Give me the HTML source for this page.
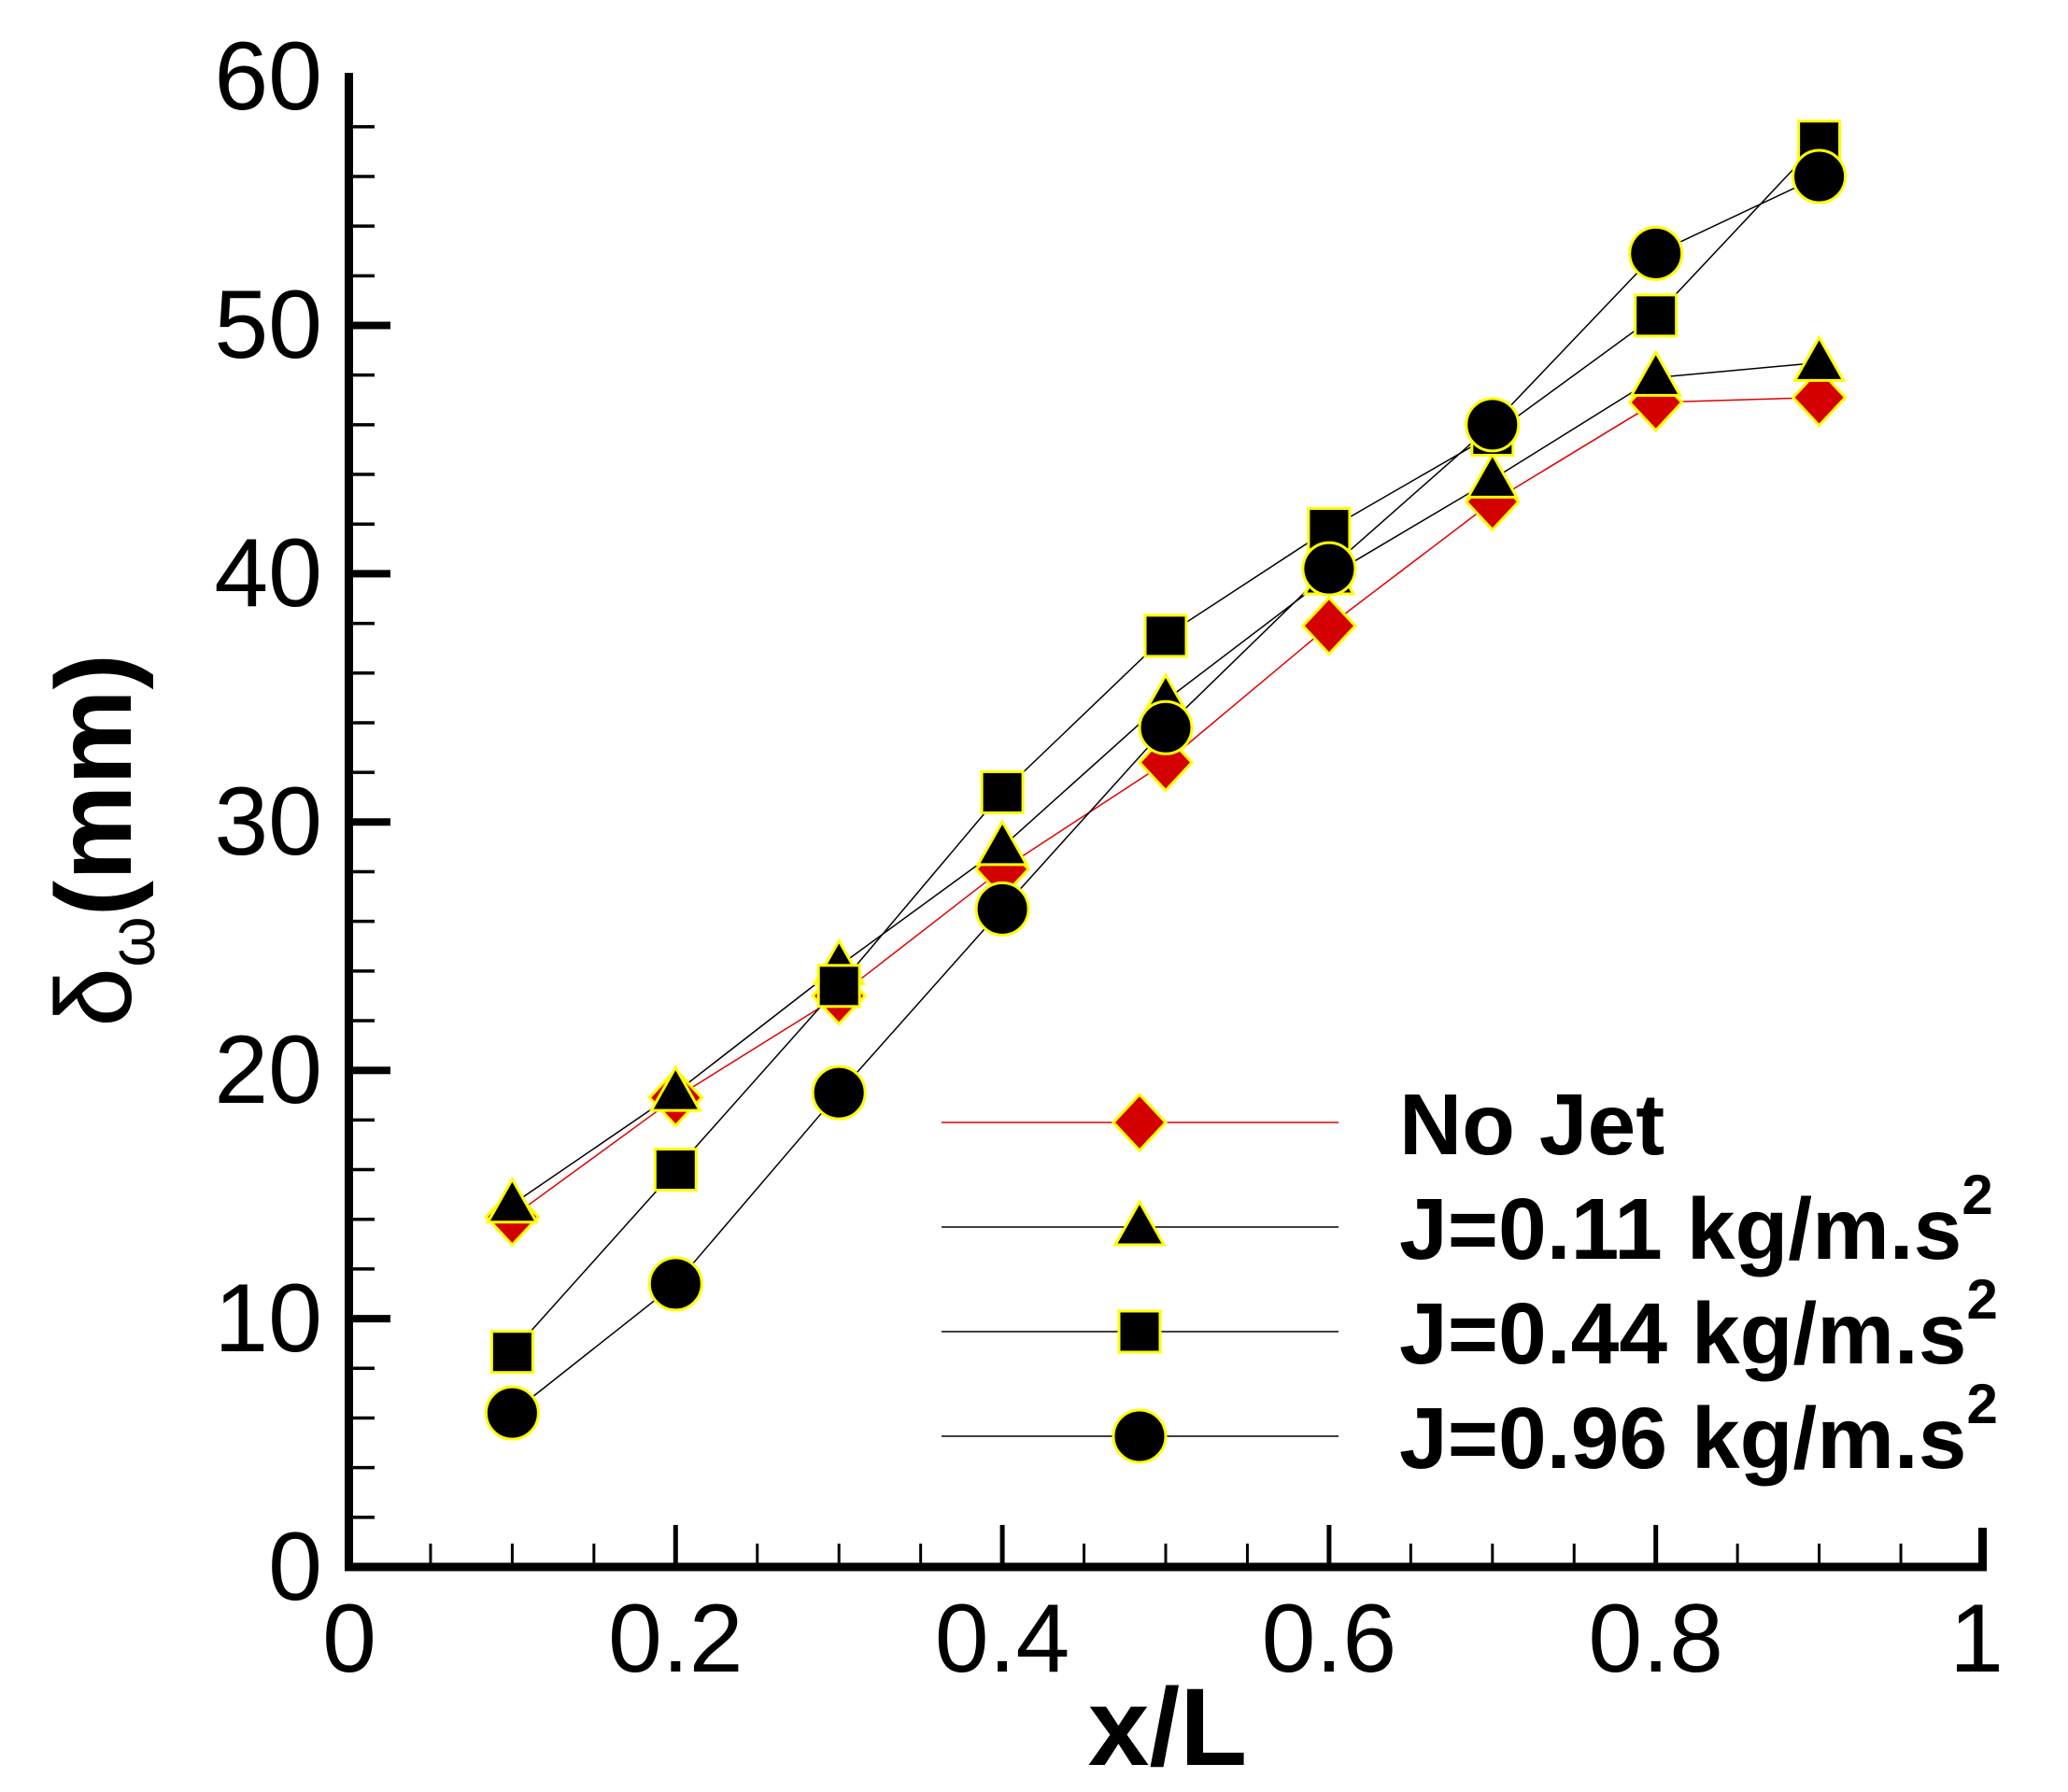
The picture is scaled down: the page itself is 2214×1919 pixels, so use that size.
<!DOCTYPE html>
<html><head><meta charset="utf-8"><style>
html,body{margin:0;padding:0;background:#fff;}
svg{display:block;}
text{font-family:"Liberation Sans",Arial,sans-serif;}
</style></head><body>
<svg id="s" width="2214" height="1919" viewBox="0 0 2214 1919" xmlns="http://www.w3.org/2000/svg">
<rect width="2214" height="1919" fill="#fff"/>
<g id="ticks" stroke="#000"></g>
<g id="series"></g>
<path d="M373.5 78 V1678 H2122.5 V1636" fill="none" stroke="#000" stroke-width="9"/>
<g font-size="104" text-anchor="end" fill="#000">
<text x="345" y="117">60</text>
<text x="345" y="383">50</text>
<text x="345" y="649">40</text>
<text x="345" y="915">30</text>
<text x="345" y="1181">20</text>
<text x="345" y="1447">10</text>
<text x="345" y="1713">0</text>
</g>
<g font-size="104" text-anchor="middle" fill="#000">
<text x="374" y="1790">0</text>
<text x="723.3" y="1790">0.2</text>
<text x="1073.1" y="1790">0.4</text>
<text x="1422.9" y="1790">0.6</text>
<text x="1772.7" y="1790">0.8</text>
<text x="2116" y="1790">1</text>
</g>
<text x="1250" y="1890" font-size="118" font-weight="bold" text-anchor="middle">x/L</text>
<text transform="translate(140,900) rotate(-90)" font-size="115" text-anchor="middle">δ<tspan font-size="70" dy="25">ω</tspan><tspan dy="-25" font-weight="bold">(mm)</tspan></text>
<g id="legend"></g>
<g font-size="93" font-weight="bold" fill="#000">
<text x="1498" y="1236">No Jet</text>
<text x="1498" y="1348">J=0.11 kg/m.s<tspan font-size="60" dy="-48">2</tspan></text>
<text x="1498" y="1460">J=0.44 kg/m.s<tspan font-size="60" dy="-48">2</tspan></text>
<text x="1498" y="1572">J=0.96 kg/m.s<tspan font-size="60" dy="-48">2</tspan></text>
</g>
</svg>
<script>
var NS="http://www.w3.org/2000/svg";
function X(v){return 373.5+1749*v;}
function Y(v){return 1678-26.59*v;}
function el(p,t,a){var e=document.createElementNS(NS,t);for(var k in a)e.setAttribute(k,a[k]);p.appendChild(e);return e;}
var tk=document.getElementById('ticks');
for(var i=1;i<20;i++){var x=X(i*0.05);var L=(i%4==0)?41:21;el(tk,'line',{x1:x,x2:x,y1:1678,y2:1678-L-4,'stroke-width':(i%4==0)?5:3});}
for(var i=1;i<30;i++){var y=Y(i*2);var L=(i%5==0)?41:24;el(tk,'line',{x1:373,x2:373+L+4,y1:y,y2:y,'stroke-width':(i%5==0)?8:3.5});}
var xs=[0.1,0.2,0.3,0.4,0.5,0.6,0.7,0.8,0.9];
var S=[
 {d:[14.1,18.9,23,28.1,32.4,37.9,42.9,46.9,47.1],c:'#e00000',m:'d',f:'#d40000'},
 {d:[14.6,19.1,24.2,29,34.9,39.9,43.8,47.9,48.5],c:'#000',m:'t',f:'#000'},
 {d:[8.66,16.0,23.4,31.2,37.5,41.8,45.6,50.4,57.4],c:'#000',m:'s',f:'#000'},
 {d:[6.2,11.4,19.1,26.5,33.8,40.2,46,52.9,56],c:'#000',m:'c',f:'#000'}];
var g=document.getElementById('series');
function mk(p,m,x,y,f){var a={fill:f,stroke:'#ffff00','stroke-width':3};
 if(m=='d'){a.points=[x,y-30,x+28,y,x,y+30,x-28,y].join(' ');el(p,'polygon',a);}
 else if(m=='t'){a.points=[x,y-27,x+26,y+19,x-26,y+19].join(' ');el(p,'polygon',a);}
 else if(m=='s'){a.x=x-22;a.y=y-22;a.width=44;a.height=44;el(p,'rect',a);}
 else {a.cx=x;a.cy=y;a.r=28;el(p,'circle',a);}}
S.forEach(function(s){var pts=xs.map(function(v,i){return X(v)+','+Y(s.d[i]);}).join(' ');
 el(g,'polyline',{points:pts,fill:'none',stroke:s.c,'stroke-width':1.5});});
S.forEach(function(s){xs.forEach(function(v,i){mk(g,s.m,X(v),Y(s.d[i]),s.f);});});
var lg=document.getElementById('legend');var ly=[1202,1314,1426,1538];
S.forEach(function(s,i){el(lg,'line',{x1:1008,x2:1433,y1:ly[i],y2:ly[i],stroke:s.c,'stroke-width':1.5});mk(lg,s.m,1220,ly[i],s.f);});
</script>
</body></html>
